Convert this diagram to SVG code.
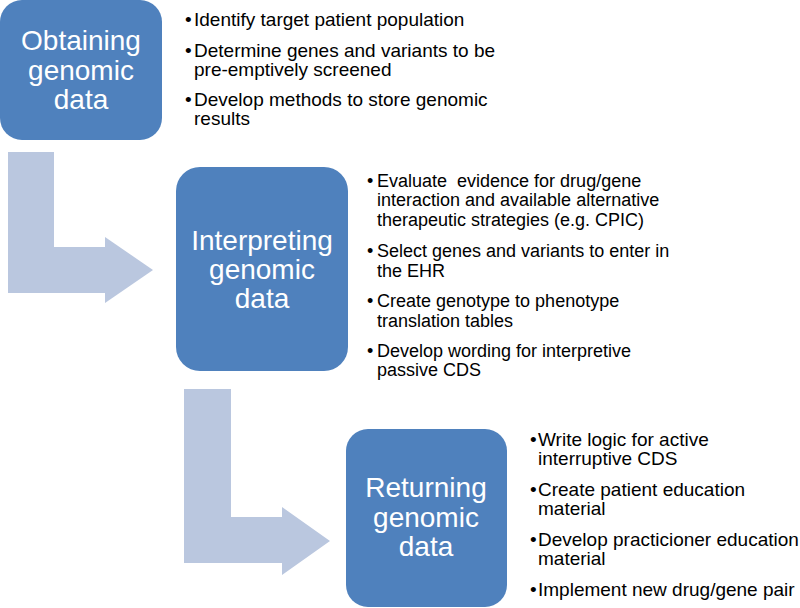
<svg xmlns="http://www.w3.org/2000/svg" width="800" height="608" viewBox="0 0 800 608">
<style>
.box{fill:#4F81BD;}
.arrow{fill:#BAC7DF;}
.title{font-family:"Liberation Sans",Arial,sans-serif;font-size:28px;fill:#FFFFFF;text-anchor:middle;}
.body{font-family:"Liberation Sans",Arial,sans-serif;font-size:18px;fill:#000000;}
.big{font-size:19px;}
</style>
<rect width="800" height="608" fill="#FFFFFF"/>
<g id="connectors">
<path class="arrow" d="M8,152 H54 V247 H105 V237 L153,270 L105,303 V293 H8 Z"/>
<path class="arrow" d="M184,389 H231 V517 H282 V507 L330,541 L282,575 V563 H184 Z"/>
</g>
<g id="node-obtaining">
<rect class="box" x="0" y="0" width="162" height="140" rx="22"/>
<text class="title" x="81" y="50">Obtaining</text>
<text class="title" x="81" y="80">genomic</text>
<text class="title" x="81" y="109">data</text>
</g>
<g id="text-obtaining">
<text class="body big" x="185" y="26">•</text><text class="body big" x="194" y="26">Identify target patient population</text>
<text class="body big" x="185" y="57">•</text><text class="body big" x="194" y="57">Determine genes and variants to be</text>
<text class="body big" x="194" y="76">pre-emptively screened</text>
<text class="body big" x="185" y="106">•</text><text class="body big" x="194" y="106">Develop methods to store genomic</text>
<text class="body big" x="194" y="125">results</text>
</g>
<g id="node-interpreting">
<rect class="box" x="176" y="167" width="172" height="204" rx="24"/>
<text class="title" x="262" y="250">Interpreting</text>
<text class="title" x="262" y="279">genomic</text>
<text class="title" x="262" y="308">data</text>
</g>
<g id="text-interpreting">
<text class="body" x="367" y="187">•</text><text class="body" x="377" y="187" xml:space="preserve">Evaluate  evidence for drug/gene</text>
<text class="body" x="377" y="206">interaction and available alternative</text>
<text class="body" x="377" y="226">therapeutic strategies (e.g. CPIC)</text>
<text class="body" x="367" y="257">•</text><text class="body" x="377" y="257">Select genes and variants to enter in</text>
<text class="body" x="377" y="277">the EHR</text>
<text class="body" x="367" y="307">•</text><text class="body" x="377" y="307">Create genotype to phenotype</text>
<text class="body" x="377" y="327">translation tables</text>
<text class="body" x="367" y="357">•</text><text class="body" x="377" y="357">Develop wording for interpretive</text>
<text class="body" x="377" y="376">passive CDS</text>
</g>
<g id="node-returning">
<rect class="box" x="346" y="429" width="161" height="178" rx="22"/>
<text class="title" x="426" y="497">Returning</text>
<text class="title" x="426" y="527">genomic</text>
<text class="title" x="426" y="556">data</text>
</g>
<g id="text-returning">
<text class="body big" x="530" y="446">•</text><text class="body big" x="538" y="446">Write logic for active</text>
<text class="body big" x="538" y="465">interruptive CDS</text>
<text class="body big" x="530" y="496">•</text><text class="body big" x="538" y="496">Create patient education</text>
<text class="body big" x="538" y="515">material</text>
<text class="body big" x="530" y="546">•</text><text class="body big" x="538" y="546">Develop practicioner education</text>
<text class="body big" x="538" y="565">material</text>
<text class="body big" x="530" y="596">•</text><text class="body big" x="538" y="596">Implement new drug/gene pair</text>
</g>
</svg>
